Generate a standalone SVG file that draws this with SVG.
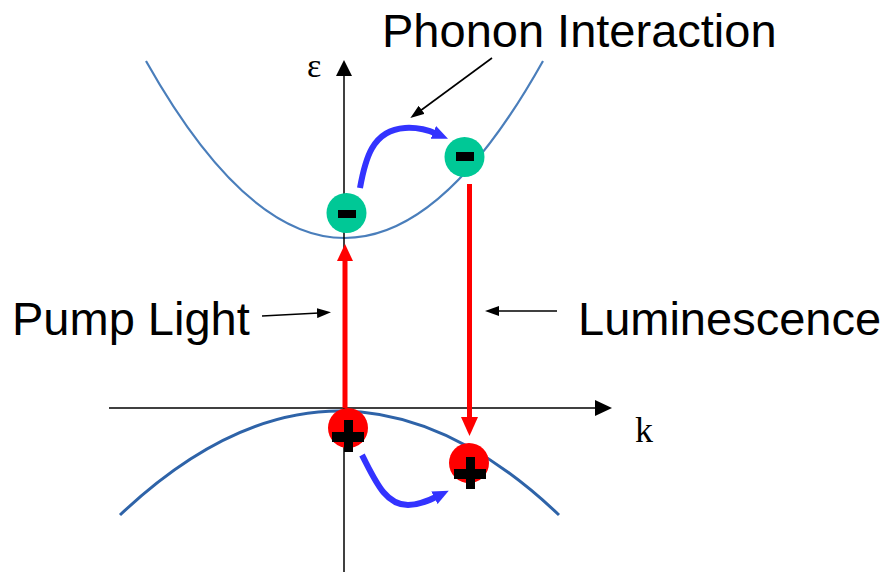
<svg xmlns="http://www.w3.org/2000/svg" width="889" height="573" viewBox="0 0 889 573">
  <style>
    .lbl { font-family: "Liberation Sans", Arial, sans-serif; font-size: 47px; fill: #000; }
    .ax { font-family: "Liberation Serif", "Times New Roman", serif; fill: #000; }
    .axis { stroke: #000; stroke-width: 1.5; fill: none; }
    .band-c { stroke: #4a7ebb; stroke-width: 2.2; fill: none; }
    .band-v { stroke: #2e63a8; stroke-width: 3; fill: none; }
    .red { stroke: #ff0000; stroke-width: 5; fill: none; }
    .redhead { fill: #ff0000; }
    .blue { stroke: #3333ff; stroke-width: 6; fill: none; marker-end: url(#bluehead); }
    .ptr { stroke: #000; stroke-width: 1.6; fill: none; marker-end: url(#blackhead); }
    .elec { fill: #00c896; }
    .hole { fill: #ff0000; }
    .sign { fill: #000; }
  </style>
  <defs>
    <marker id="bluehead" viewBox="0 0 16 14" refX="4" refY="7" markerWidth="16" markerHeight="14" markerUnits="userSpaceOnUse" orient="auto">
      <path d="M0,0 L16,7 L0,14 z" fill="#3333ff"/>
    </marker>
    <marker id="blackhead" viewBox="0 0 14 10" refX="2" refY="5" markerWidth="14" markerHeight="10" markerUnits="userSpaceOnUse" orient="auto">
      <path d="M0,0 L14,5 L0,10 z" fill="#000"/>
    </marker>
  </defs>

  <g id="bands">
    <path class="band-c" d="M146,61 Q345,415 543,61"/>
    <path class="band-v" d="M120,515 Q340,307 559,515"/>
  </g>

  <g id="axes">
    <line class="axis" x1="344" y1="572" x2="344" y2="74"/>
    <polygon points="344,60 336,76 352,76" fill="#000"/>
    <line class="axis" x1="109" y1="408" x2="598" y2="408"/>
    <polygon points="612,408 595,400 595,416" fill="#000"/>
    <text class="ax" x="307" y="77" font-size="34">ε</text>
    <text class="ax" x="635" y="442" font-size="36">k</text>
  </g>

  <g id="connectors">
    <line class="red" x1="345" y1="408" x2="345" y2="258"/>
    <polygon class="redhead" points="345,244 337,261 353,261"/>
    <line class="red" x1="469.5" y1="184" x2="469.5" y2="420"/>
    <polygon class="redhead" points="469.5,436 461,417 478,417"/>
    <path class="blue" d="M360,188 C365,160 372,130 405,128 C420,127 430,131 437,134"/>
    <path class="blue" d="M362,455 C375,480 385,505 408,505 C420,505 430,500 438,496"/>
    <line class="ptr" x1="262" y1="316" x2="319" y2="313"/>
    <line class="ptr" x1="557" y1="311" x2="497" y2="311"/>
    <line class="ptr" x1="492" y1="58" x2="420" y2="111"/>
  </g>

  <g id="electron1">
    <circle class="elec" cx="346.5" cy="213" r="20"/>
    <rect class="sign" x="338" y="210" width="18" height="8"/>
  </g>
  <g id="electron2">
    <circle class="elec" cx="464.5" cy="157" r="20"/>
    <rect class="sign" x="456" y="152" width="18" height="9"/>
  </g>
  <g id="hole1">
    <circle class="hole" cx="348" cy="428" r="20"/>
    <rect class="sign" x="344" y="420" width="9" height="32"/>
    <rect class="sign" x="332" y="432" width="32" height="10"/>
  </g>
  <g id="hole2">
    <circle class="hole" cx="469" cy="463" r="20"/>
    <rect class="sign" x="466" y="457" width="9" height="32"/>
    <rect class="sign" x="454" y="469" width="32" height="10"/>
  </g>

  <g id="labels">
    <text class="lbl" x="382" y="47">Phonon Interaction</text>
    <text class="lbl" x="12" y="335">Pump Light</text>
    <text class="lbl" x="578" y="335">Luminescence</text>
  </g>
</svg>
